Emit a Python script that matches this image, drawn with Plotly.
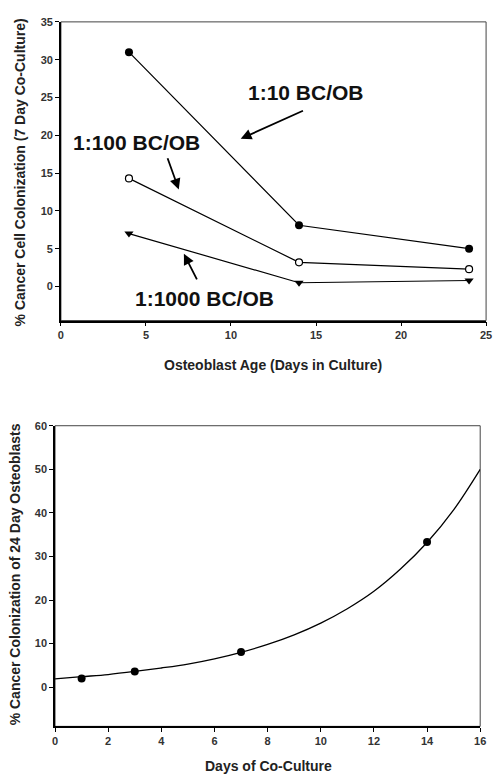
import plotly.graph_objects as go

# ---- Top chart data ----
osteo_age = [4, 14, 24]
ratio_1_10 = [31.0, 8.1, 5.0]
ratio_1_100 = [14.3, 3.2, 2.3]
ratio_1_1000 = [7.0, 0.5, 0.8]

# ---- Bottom chart data ----
coculture_days = [1, 3, 7, 14]
colonization_24d = [2.0, 3.6, 8.1, 33.3]
# fitted curve
fit_days = [0, 1, 2, 3, 4, 5, 6, 7, 8, 9, 10, 11, 12, 13, 14, 15, 16]
fit_values = [1.9, 2.4, 2.9, 3.6, 4.4, 5.3, 6.5, 8.0, 9.8, 12.0, 14.7, 18.0, 22.0, 27.1, 33.2, 40.7, 50.0]

top_xticks = [0, 5, 10, 15, 20, 25]
top_yticks = [0, 5, 10, 15, 20, 25, 30, 35]
bot_xticks = [0, 2, 4, 6, 8, 10, 12, 14, 16]
bot_yticks = [0, 10, 20, 30, 40, 50, 60]

FONT = "Liberation Sans, Arial, sans-serif"
W, H = 497, 776

fig = go.Figure()
line = dict(color="black", width=1.2)
fig.add_trace(go.Scatter(x=osteo_age, y=ratio_1_10, mode="lines+markers", line=line,
                         marker=dict(symbol="circle", size=8, color="black"),
                         xaxis="x", yaxis="y", showlegend=False))
fig.add_trace(go.Scatter(x=osteo_age, y=ratio_1_100, mode="lines+markers", line=line,
                         marker=dict(symbol="circle", size=7, color="white",
                                     line=dict(color="black", width=1.2)),
                         xaxis="x", yaxis="y", showlegend=False))
fig.add_trace(go.Scatter(x=osteo_age, y=ratio_1_1000, mode="lines+markers", line=line,
                         marker=dict(symbol="triangle-down", size=8, color="black"),
                         xaxis="x", yaxis="y", showlegend=False))

fig.add_trace(go.Scatter(x=fit_days, y=fit_values, mode="lines",
                         line=dict(color="black", width=1.3, shape="spline"),
                         xaxis="x2", yaxis="y2", showlegend=False))
fig.add_trace(go.Scatter(x=coculture_days, y=colonization_24d, mode="markers",
                         marker=dict(symbol="circle", size=8, color="black"),
                         xaxis="x2", yaxis="y2", showlegend=False))

tickfont = dict(family=FONT, size=11, color="#333", weight="bold")
axis_common = dict(showgrid=False, zeroline=False, showline=True, linecolor="black",
                   linewidth=1.5, ticks="outside", ticklen=4, tickwidth=1.2,
                   tickcolor="black", tickfont=tickfont)

top_x = (59 / W, 492 / W)
top_y = ((H - 317) / H, (H - 16) / H)
bot_x = (53 / W, 486 / W)
bot_y = ((H - 726) / H, (H - 423) / H)

fig.update_layout(
    width=W, height=H, margin=dict(l=0, r=0, t=0, b=0),
    paper_bgcolor="white", plot_bgcolor="white",
    xaxis=dict(domain=list(top_x), range=[0, 25], tickvals=top_xticks, anchor="y", **axis_common),
    yaxis=dict(domain=list(top_y), range=[-4.5, 35], tickvals=top_yticks, anchor="x", **axis_common),
    xaxis2=dict(domain=list(bot_x), range=[0, 16], tickvals=bot_xticks, anchor="y2", **axis_common),
    yaxis2=dict(domain=list(bot_y), range=[-9, 60], tickvals=bot_yticks, anchor="x2", **axis_common),
)

# top/right borders
for xr, yr in (("x domain", "y domain"), ("x2 domain", "y2 domain")):
    fig.add_shape(type="rect", xref=xr, yref=yr, x0=0, x1=1, y0=0, y1=1,
                  line=dict(color="#444", width=1), layer="below")

title_font = dict(family=FONT, size=14, color="#222", weight="bold")
label_font = dict(family=FONT, size=21, color="#111", weight="bold")

anns = [
    # axis titles
    dict(text="% Cancer Cell Colonization (7 Day Co-Culture)", xref="paper", yref="paper",
         x=17 / W, y=(H - 168) / H, textangle=-90, showarrow=False, font=title_font,
         xanchor="center", yanchor="middle"),
    dict(text="Osteoblast Age (Days in Culture)", xref="paper", yref="paper",
         x=275 / W, y=(H - 362) / H, showarrow=False, font=title_font,
         xanchor="center", yanchor="middle"),
    dict(text="% Cancer Colonization of 24 Day Osteoblasts", xref="paper", yref="paper",
         x=12 / W, y=(H - 573) / H, textangle=-90, showarrow=False, font=title_font,
         xanchor="center", yanchor="middle"),
    dict(text="Days of Co-Culture", xref="paper", yref="paper",
         x=270 / W, y=(H - 766) / H, showarrow=False, font=title_font,
         xanchor="center", yanchor="middle"),
    # series labels
    dict(text="1:10 BC/OB", xref="x", yref="y", x=14.43, y=25.7, showarrow=False,
         font=label_font, xanchor="center", yanchor="middle"),
    dict(text="1:100 BC/OB", xref="x", yref="y", x=4.45, y=19.0, showarrow=False,
         font=label_font, xanchor="center", yanchor="middle"),
    dict(text="1:1000 BC/OB", xref="x", yref="y", x=8.43, y=-1.6, showarrow=False,
         font=label_font, xanchor="center", yanchor="middle"),
]
# arrows (tail -> head, data coordinates)
arrows = [((14.32, 23.33), (10.57, 19.53)),
          ((6.24, 17.17), (6.93, 12.84)),
          ((8.04, 0.75), (7.23, 4.33))]
for (tx, ty), (hx, hy) in arrows:
    anns.append(dict(text="", xref="x", yref="y", axref="x", ayref="y",
                     x=hx, y=hy, ax=tx, ay=ty, showarrow=True,
                     arrowhead=2, arrowsize=1.2, arrowwidth=1.8, arrowcolor="black"))
fig.update_layout(annotations=anns)

fig.write_html("out.html")
